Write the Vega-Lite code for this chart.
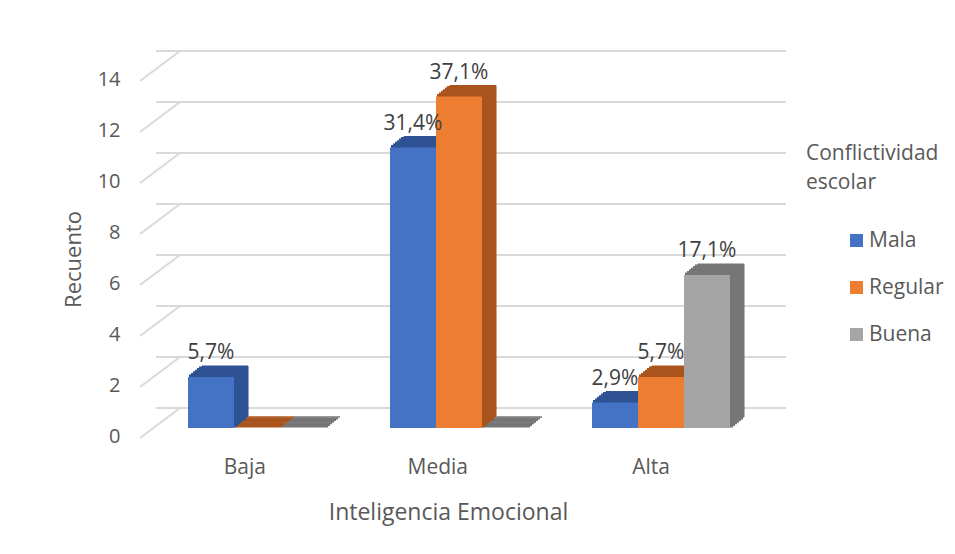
{
  "$schema": "https://vega.github.io/schema/vega-lite/v6.json",
  "width": 606,
  "height": 357,
  "autosize": {"type": "none"},
  "padding": {"left": 156, "top": 71, "right": 193, "bottom": 126},
  "background": "white",
  "config": {
    "view": {"stroke": null},
    "font": "Open Sans",
    "axis": {"grid": false, "domain": false, "ticks": false, "labelColor": "#595959", "titleColor": "#595959", "titleFontWeight": "normal", "labelFontSize": 20, "titleFontSize": 22, "labelFont": "Open Sans", "titleFont": "Open Sans"},
    "legend": {"labelFont": "Open Sans", "titleFont": "Open Sans"}
  },
  "datasets": {
    "main": [
      {"Nivel": "Baja", "Conflictividad": "Mala", "Recuento": 2, "Etiqueta": "5,7%"},
      {"Nivel": "Baja", "Conflictividad": "Regular", "Recuento": 0, "Etiqueta": ""},
      {"Nivel": "Baja", "Conflictividad": "Buena", "Recuento": 0, "Etiqueta": ""},
      {"Nivel": "Media", "Conflictividad": "Mala", "Recuento": 11, "Etiqueta": "31,4%"},
      {"Nivel": "Media", "Conflictividad": "Regular", "Recuento": 13, "Etiqueta": "37,1%"},
      {"Nivel": "Media", "Conflictividad": "Buena", "Recuento": 0, "Etiqueta": ""},
      {"Nivel": "Alta", "Conflictividad": "Mala", "Recuento": 1, "Etiqueta": "2,9%"},
      {"Nivel": "Alta", "Conflictividad": "Regular", "Recuento": 2, "Etiqueta": "5,7%"},
      {"Nivel": "Alta", "Conflictividad": "Buena", "Recuento": 6, "Etiqueta": "17,1%"}
    ],
    "grid": [
      {"Recuento": 0}, {"Recuento": 2}, {"Recuento": 4}, {"Recuento": 6},
      {"Recuento": 8}, {"Recuento": 10}, {"Recuento": 12}, {"Recuento": 14}
    ]
  },
  "resolve": {"scale": {"color": "independent", "xOffset": "independent"}},
  "layer": [
    {
      "data": {"name": "grid"},
      "mark": {"type": "rule", "color": "#D9D9D9", "strokeWidth": 2, "xOffset": 24, "x2Offset": 28, "yOffset": -20},
      "encoding": {
        "y": {"field": "Recuento", "type": "quantitative", "scale": {"domain": [0, 14], "nice": false}}
      }
    },
    {
      "data": {"name": "grid"},
      "mark": {"type": "rule", "color": "#D9D9D9", "strokeWidth": 2, "xOffset": -117, "x2Offset": -77, "yOffset": 10, "y2Offset": -20},
      "encoding": {
        "x": {"datum": "Baja", "type": "nominal"},
        "x2": {"datum": "Baja"},
        "y": {"field": "Recuento", "type": "quantitative"},
        "y2": {"field": "Recuento"}
      }
    },
    {
      "data": {"name": "main"},
      "mark": {"type": "bar", "yOffset": -1.6, "y2Offset": -1.6, "strokeWidth": 2},
      "encoding": {
        "x": {"field": "Nivel", "type": "nominal", "sort": ["Baja", "Media", "Alta"], "scale": {"paddingInner": 0.317, "paddingOuter": 0.1585}},
        "xOffset": {"field": "Conflictividad", "type": "nominal", "sort": ["Mala", "Regular", "Buena"], "scale": {"range": [2, 140]}},
        "y": {"field": "Recuento", "type": "quantitative"},
        "color": {"field": "Conflictividad", "type": "nominal", "scale": {"domain": ["Mala", "Regular", "Buena"], "range": ["#2E5294", "#AA541D", "#767676"]}, "legend": null},
        "stroke": {"field": "Conflictividad", "type": "nominal", "scale": {"domain": ["Mala", "Regular", "Buena"], "range": ["#2E5294", "#AA541D", "#767676"]}, "legend": null}
      }
    },
    {
      "data": {"name": "main"},
      "mark": {"type": "bar", "yOffset": -3.1, "y2Offset": -3.1, "strokeWidth": 2},
      "encoding": {
        "x": {"field": "Nivel", "type": "nominal", "sort": ["Baja", "Media", "Alta"]},
        "xOffset": {"field": "Conflictividad", "type": "nominal", "sort": ["Mala", "Regular", "Buena"], "scale": {"range": [4, 142]}},
        "y": {"field": "Recuento", "type": "quantitative"},
        "color": {"field": "Conflictividad", "type": "nominal", "scale": {"domain": ["Mala", "Regular", "Buena"], "range": ["#2E5294", "#AA541D", "#767676"]}, "legend": null},
        "stroke": {"field": "Conflictividad", "type": "nominal", "legend": null}
      }
    },
    {
      "data": {"name": "main"},
      "mark": {"type": "bar", "yOffset": -4.7, "y2Offset": -4.7, "strokeWidth": 2},
      "encoding": {
        "x": {"field": "Nivel", "type": "nominal", "sort": ["Baja", "Media", "Alta"]},
        "xOffset": {"field": "Conflictividad", "type": "nominal", "sort": ["Mala", "Regular", "Buena"], "scale": {"range": [6, 144]}},
        "y": {"field": "Recuento", "type": "quantitative"},
        "color": {"field": "Conflictividad", "type": "nominal", "scale": {"domain": ["Mala", "Regular", "Buena"], "range": ["#2E5294", "#AA541D", "#767676"]}, "legend": null},
        "stroke": {"field": "Conflictividad", "type": "nominal", "legend": null}
      }
    },
    {
      "data": {"name": "main"},
      "mark": {"type": "bar", "yOffset": -6.3, "y2Offset": -6.3, "strokeWidth": 2},
      "encoding": {
        "x": {"field": "Nivel", "type": "nominal", "sort": ["Baja", "Media", "Alta"]},
        "xOffset": {"field": "Conflictividad", "type": "nominal", "sort": ["Mala", "Regular", "Buena"], "scale": {"range": [8, 146]}},
        "y": {"field": "Recuento", "type": "quantitative"},
        "color": {"field": "Conflictividad", "type": "nominal", "scale": {"domain": ["Mala", "Regular", "Buena"], "range": ["#2E5294", "#AA541D", "#767676"]}, "legend": null},
        "stroke": {"field": "Conflictividad", "type": "nominal", "legend": null}
      }
    },
    {
      "data": {"name": "main"},
      "mark": {"type": "bar", "yOffset": -7.9, "y2Offset": -7.9, "strokeWidth": 2},
      "encoding": {
        "x": {"field": "Nivel", "type": "nominal", "sort": ["Baja", "Media", "Alta"]},
        "xOffset": {"field": "Conflictividad", "type": "nominal", "sort": ["Mala", "Regular", "Buena"], "scale": {"range": [10, 148]}},
        "y": {"field": "Recuento", "type": "quantitative"},
        "color": {"field": "Conflictividad", "type": "nominal", "scale": {"domain": ["Mala", "Regular", "Buena"], "range": ["#2E5294", "#AA541D", "#767676"]}, "legend": null},
        "stroke": {"field": "Conflictividad", "type": "nominal", "legend": null}
      }
    },
    {
      "data": {"name": "main"},
      "mark": {"type": "bar", "yOffset": -9.4, "y2Offset": -9.4, "strokeWidth": 2},
      "encoding": {
        "x": {"field": "Nivel", "type": "nominal", "sort": ["Baja", "Media", "Alta"]},
        "xOffset": {"field": "Conflictividad", "type": "nominal", "sort": ["Mala", "Regular", "Buena"], "scale": {"range": [12, 150]}},
        "y": {"field": "Recuento", "type": "quantitative"},
        "color": {"field": "Conflictividad", "type": "nominal", "scale": {"domain": ["Mala", "Regular", "Buena"], "range": ["#2E5294", "#AA541D", "#767676"]}, "legend": null},
        "stroke": {"field": "Conflictividad", "type": "nominal", "legend": null}
      }
    },
    {
      "data": {"name": "main"},
      "mark": {"type": "bar", "yOffset": -11, "y2Offset": -11, "strokeWidth": 1},
      "encoding": {
        "x": {"field": "Nivel", "type": "nominal", "sort": ["Baja", "Media", "Alta"]},
        "xOffset": {"field": "Conflictividad", "type": "nominal", "sort": ["Mala", "Regular", "Buena"], "scale": {"range": [14, 152]}},
        "y": {"field": "Recuento", "type": "quantitative"},
        "color": {"field": "Conflictividad", "type": "nominal", "scale": {"domain": ["Mala", "Regular", "Buena"], "range": ["#2E5294", "#AA541D", "#767676"]}, "legend": null},
        "stroke": {"field": "Conflictividad", "type": "nominal", "legend": null}
      }
    },
    {
      "data": {"name": "main"},
      "mark": {"type": "bar"},
      "encoding": {
        "x": {"field": "Nivel", "type": "nominal", "sort": ["Baja", "Media", "Alta"],
              "axis": {"title": "Inteligencia Emocional", "titleFontSize": 23, "labelFontSize": 21, "labelAngle": 0, "labelPadding": 39, "labelOffset": 9, "titlePadding": 24, "titleX": 292}},
        "xOffset": {"field": "Conflictividad", "type": "nominal", "sort": ["Mala", "Regular", "Buena"]},
        "y": {"field": "Recuento", "type": "quantitative",
              "axis": {"title": "Recuento", "values": [0, 2, 4, 6, 8, 10, 12, 14], "labelPadding": 36, "labelOffset": 8, "titlePadding": 12, "titleY": 188}},
        "color": {"field": "Conflictividad", "type": "nominal",
                  "scale": {"domain": ["Mala", "Regular", "Buena"], "range": ["#4472C4", "#ED7D31", "#A5A5A5"]},
                  "legend": {"orient": "none", "legendX": 650, "legendY": 72, "title": ["Conflictividad", "escolar"],
                             "titleFontSize": 21, "titleLineHeight": 29, "titleFontWeight": "normal", "titleColor": "#595959",
                             "titlePadding": 37, "symbolType": "square", "symbolSize": 169, "symbolStrokeWidth": 0,
                             "symbolOffset": 40, "labelFontSize": 21, "labelColor": "#595959", "rowPadding": 25, "labelOffset": 2}}
      }
    },
    {
      "data": {"name": "main"},
      "mark": {"type": "text", "fontSize": 21, "color": "#404040", "dy": -24},
      "encoding": {
        "x": {"field": "Nivel", "type": "nominal", "sort": ["Baja", "Media", "Alta"]},
        "xOffset": {"field": "Conflictividad", "type": "nominal", "sort": ["Mala", "Regular", "Buena"]},
        "y": {"field": "Recuento", "type": "quantitative"},
        "text": {"field": "Etiqueta"}
      }
    }
  ]
}
